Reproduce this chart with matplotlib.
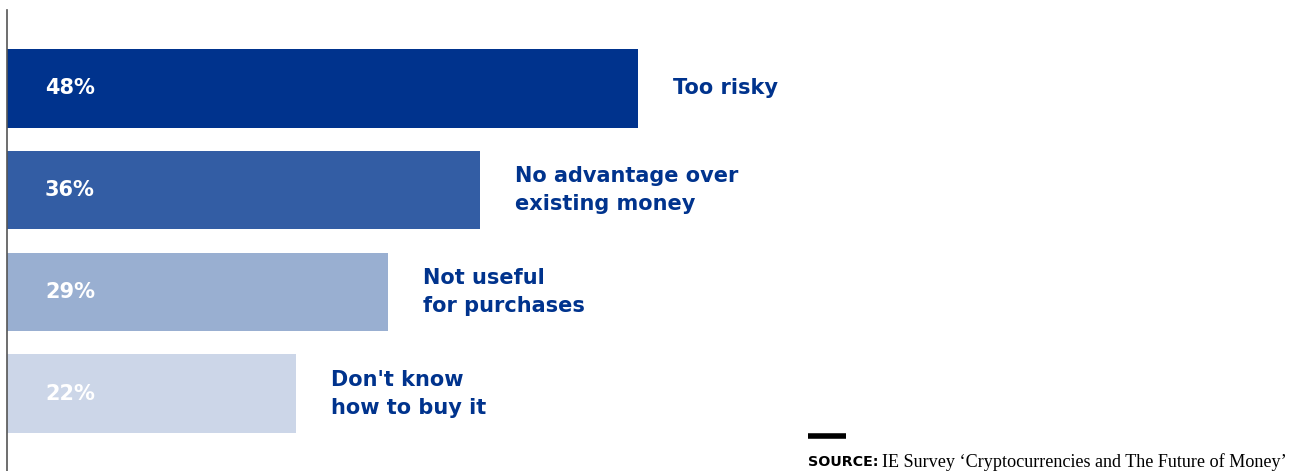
import matplotlib.pyplot as plt

categories = ['Too risky', 'No advantage over\nexisting money', 'Not useful\nfor purchases', "Don't know\nhow to buy it"]
shares = [48, 36, 29, 22]
bar_colors = ['#00338D', '#335DA4', '#99AFD1', '#CCD6E8']
source_label = 'SOURCE:'
source_text = 'IE Survey \u2018Cryptocurrencies and The Future of Money\u2019'

fig = plt.figure(figsize=(13.01, 4.71), dpi=100)
ax = fig.add_axes([7 / 1301, 0, 1 - 7 / 1301, 1 - 10 / 471])

pos = list(range(len(shares)))
ax.barh(pos, shares, height=0.77, color=bar_colors, left=0)

for y, v, name in zip(pos, shares, categories):
    ax.annotate(f'{v}%', xy=(0, y), xytext=(38, 0), textcoords='offset pixels',
                ha='left', va='center', color='white', fontsize=15, fontweight='bold')
    ax.annotate(name, xy=(v, y), xytext=(35, 0), textcoords='offset pixels',
                ha='left', va='center', color='#00338D', fontsize=15, fontweight='bold',
                linespacing=1.5)

ax.set_xlim(0, 1294 / 13.15)
ax.set_ylim(3.76, -0.77)
ax.set_xticks([])
ax.set_yticks([])
for side in ['top', 'right', 'bottom']:
    ax.spines[side].set_visible(False)
ax.spines['left'].set_color('#555555')
ax.spines['left'].set_linewidth(1.2)

# source note with short rule above it
fig.add_artist(plt.Line2D([808 / 1301, 846 / 1301], [1 - 436 / 471, 1 - 436 / 471],
                          color='black', linewidth=4, solid_capstyle='butt'))
t1 = fig.text(808 / 1301, 1 - 462 / 471, source_label, fontsize=10.3, fontweight='bold',
              color='black', ha='left', va='center')
fig.canvas.draw()
ax.annotate(source_text, xy=(1, 0.5), xycoords=t1, xytext=(4, 0), textcoords='offset pixels',
            ha='left', va='center', fontsize=13.1, family='Liberation Serif', color='black')

fig.savefig('out.png', dpi=100)
